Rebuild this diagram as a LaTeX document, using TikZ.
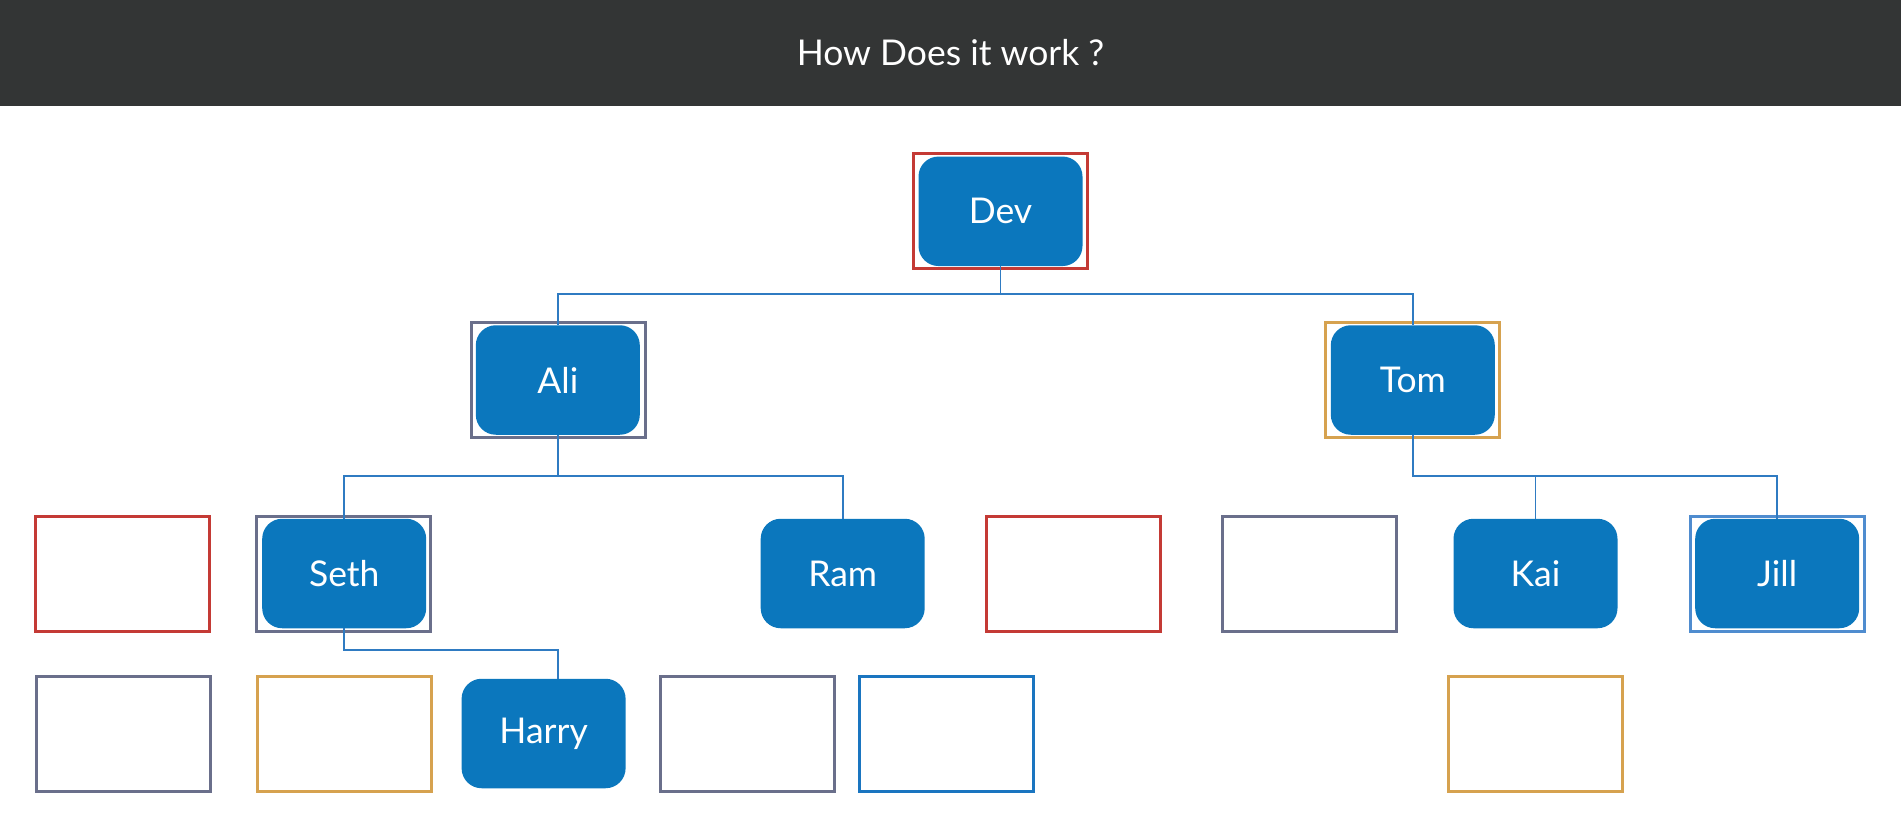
\documentclass[tikz,border=0pt]{standalone}
\usepackage{fontspec}
\setmainfont{Lato}
\definecolor{headbg}{HTML}{333535}
\definecolor{boxblue}{HTML}{0B77BD}
\definecolor{connblue}{HTML}{2F7BC2}
\definecolor{fred}{HTML}{C43A35}
\definecolor{fslate}{HTML}{6A6F8B}
\definecolor{forange}{HTML}{D6A24F}
\definecolor{flight}{HTML}{4F8CCF}
\definecolor{fblue}{HTML}{1A75C0}
\begin{document}
\begin{tikzpicture}[x=1pt,y=-1pt,
  person/.style={rectangle, rounded corners=20pt, fill=boxblue, draw=none,
    minimum width=164pt, minimum height=109.5pt, inner sep=0pt,
    text=white, font=\fontsize{35.5}{40}\selectfont},
  frame/.style={rectangle, draw=#1, line width=3pt, fill=none,
    minimum width=174pt, minimum height=115pt, inner sep=0pt},
  conn/.style={draw=connblue, line width=1.6pt}]
\useasboundingbox (0,0) rectangle (1901,821);
\fill[headbg] (0,0) rectangle (1901,106);
\node[text=white, font=\fontsize{35.5}{42}\selectfont] (title) at (950.5,53) {How Does it work ?};
% frames
\node[frame=fred] (fdev) at (1000.5,211.3) {};
\node[frame=fslate] (fali) at (558,380) {};
\node[frame=forange] (ftom) at (1412.8,380) {};
\node[frame=fred] (fr1) at (122.5,573.5) {};
\node[frame=fslate] (fseth) at (343.9,573.5) {};
\node[frame=fred] (fr2) at (1073.5,573.5) {};
\node[frame=fslate] (fs2) at (1309.7,573.5) {};
\node[frame=flight] (fjill) at (1777.2,573.5) {};
\node[frame=fslate] (fs3) at (123,733.5) {};
\node[frame=forange] (fo1) at (344.9,733.5) {};
\node[frame=fslate] (fs4) at (747,733.5) {};
\node[frame=fblue] (fb1) at (946.6,733.5) {};
\node[frame=forange] (fo2) at (1535.9,733.5) {};
% people
\node[person] (dev) at (1000.5,211.3) {Dev};
\node[person] (ali) at (557.8,380) {Ali};
\node[person] (tom) at (1412.8,380) {Tom};
\node[person] (seth) at (344.2,573.5) {Seth};
\node[person] (ram) at (842.7,573.5) {Ram};
\node[person] (kai) at (1535.5,573.5) {Kai};
\node[person] (jill) at (1777.2,573.5) {Jill};
\node[person] (harry) at (543.6,733.5) {Harry};
% branch points
\coordinate (b1) at (1000.5,294);
\coordinate (b2) at (557.8,476);
\coordinate (b3) at (1412.8,476);
\coordinate (b4) at (557.8,650);
% connectors
\draw[conn] (dev.south) -- (b1);
\draw[conn] (ali.north) |- (b1) -| (tom.north);
\draw[conn] (ali.south) -- (b2);
\draw[conn] (seth.north) |- (b2) -| (ram.north);
\draw[conn] (tom.south) -- (b3) -| (jill.north);
\draw[conn] (kai.north) -- (kai.north |- b3);
\draw[conn] (seth.south) |- (b4) -- (b4 |- harry.north);
\end{tikzpicture}
\end{document}
